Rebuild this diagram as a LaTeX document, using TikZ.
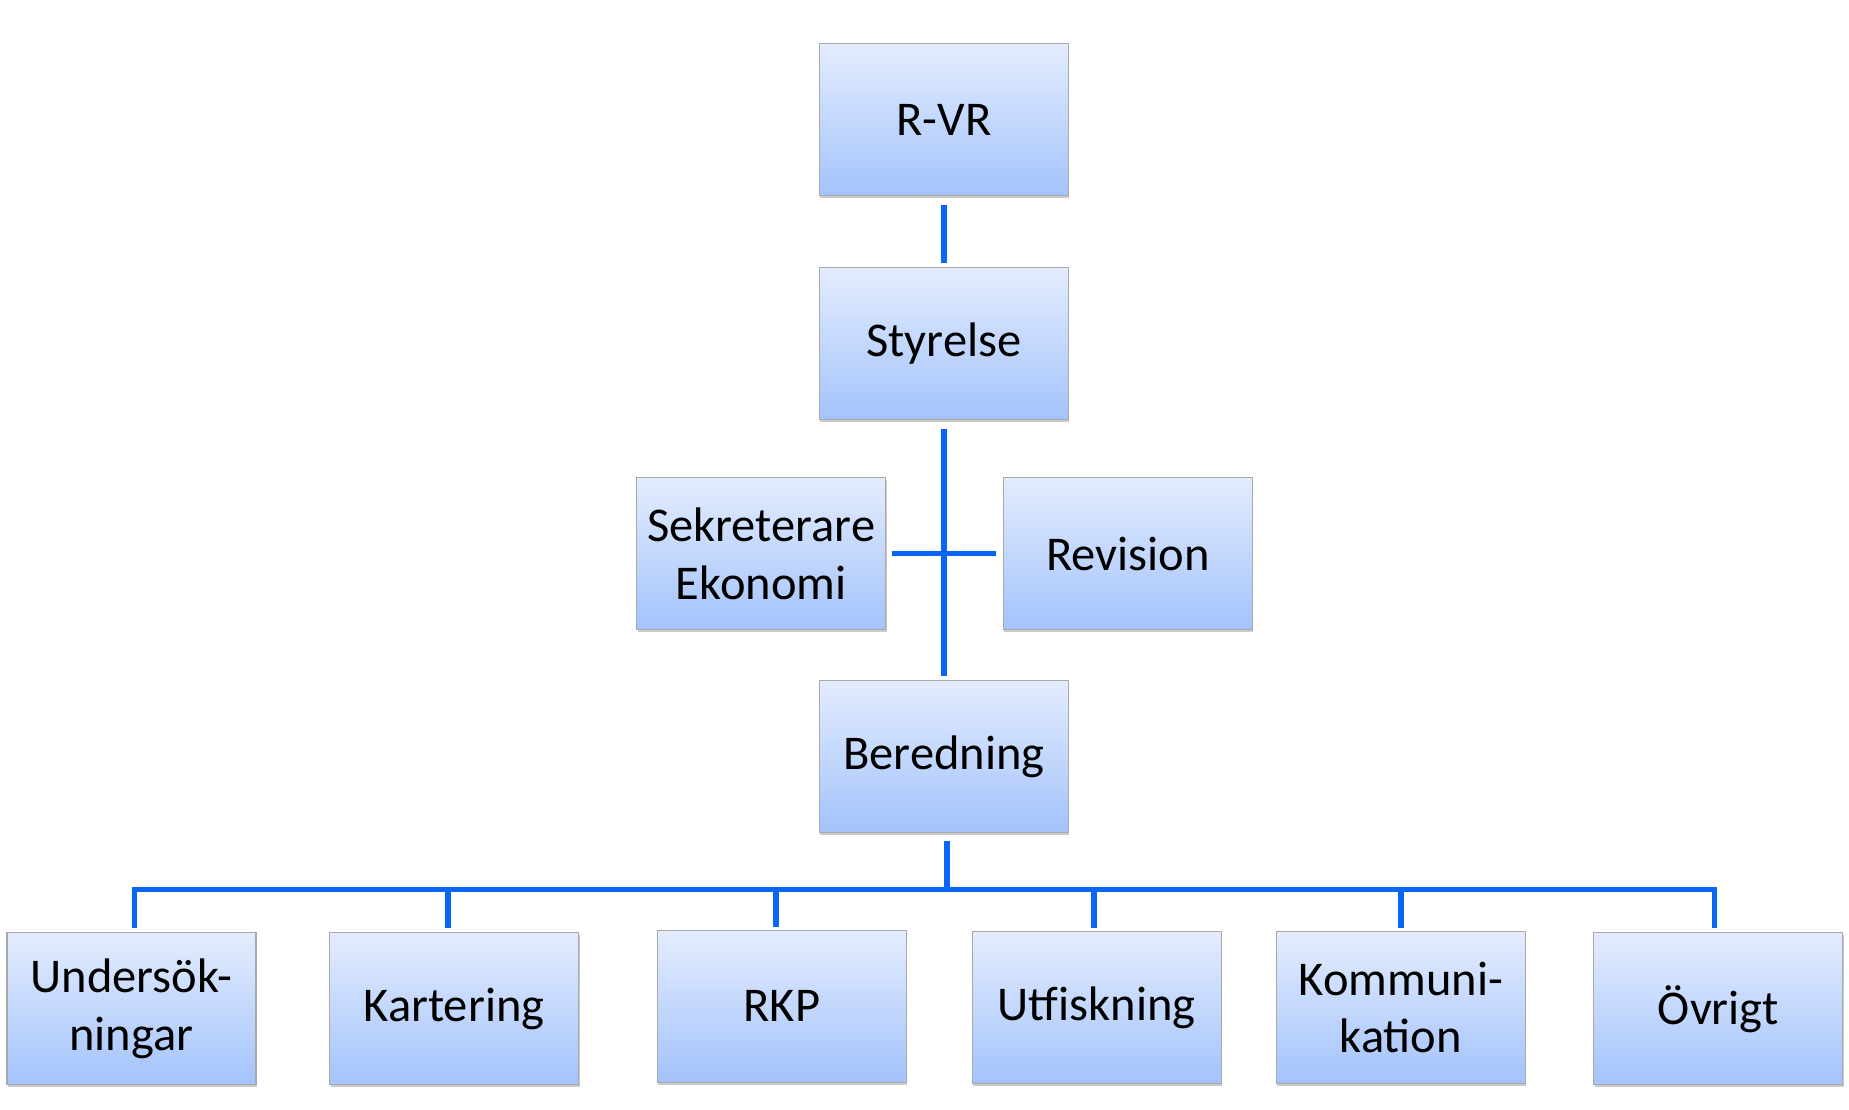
\documentclass[tikz,border=0pt]{standalone}
\usepackage{fontspec}
\setmainfont{Carlito}
\usetikzlibrary{shadows}
\definecolor{boxtop}{HTML}{E3ECFD}
\definecolor{boxbot}{HTML}{A3C3FC}
\definecolor{boxline}{HTML}{A8A8A8}
\definecolor{connblue}{HTML}{0A66F5}
\begin{document}
\begin{tikzpicture}[x=1pt,y=1pt,
  orgbox/.style={rectangle, minimum width=249pt, minimum height=152pt, inner sep=0pt,
    align=center, draw=boxline, line width=1.2pt, top color=boxtop, bottom color=boxbot,
    font=\fontsize{48.5}{57.5}\selectfont,
    drop shadow={shadow xshift=1pt, shadow yshift=-2.5pt, opacity=0.35, fill=black!60}},
  conn/.style={draw=connblue, line width=5.5pt}]
\useasboundingbox (0,0) rectangle (1849,-1109);
\node[orgbox] (rvr) at (943.9,-119.7) {R-VR};
\node[orgbox] (sty) at (943.9,-343.7) {Styrelse};
\node[orgbox] (sek) at (761.2,-553.6) {Sekreterare\\Ekonomi};
\node[orgbox] (rev) at (1127.9,-553.6) {Revision};
\node[orgbox] (ber) at (943.9,-756.5) {Beredning};
\node[orgbox] (und) at (131.5,-1008.8) {Undersök-\\ningar};
\node[orgbox] (kar) at (454,-1008.8) {Kartering};
\node[orgbox] (rkp) at (781.8,-1006.4) {RKP};
\node[orgbox] (utf) at (1096.7,-1007.6) {Utfiskning};
\node[orgbox] (kom) at (1400.9,-1007.6) {Kommuni-\\kation};
\node[orgbox] (ovr) at (1718.1,-1008.8) {Övrigt};
% connectors
\draw[conn, shorten <=8.5pt, shorten >=4.5pt] (rvr.south) -- (sty.north);
\draw[conn, shorten <=9pt, shorten >=4pt] (sty.south) -- (ber.north);
\draw[conn, shorten <=6pt, shorten >=7pt] (sek.east) -- (rev.west);
\draw[conn, shorten <=8pt] ([xshift=3pt]ber.south) -- ++(0,-56.5) coordinate (bj);
\draw[conn, line join=miter] ([xshift=3pt,yshift=4.5pt]und.north) -- ([xshift=3pt]und.north |- bj)
  -- ([xshift=-3.5pt]ovr.north |- bj) -- ([xshift=-3.5pt,yshift=4.5pt]ovr.north);
\draw[conn] ([xshift=-6pt]kar.north |- bj) -- ([xshift=-6pt,yshift=4.5pt]kar.north);
\draw[conn] ([xshift=-6pt]rkp.north |- bj) -- ([xshift=-6pt,yshift=2.5pt]rkp.north);
\draw[conn] ([xshift=-2.5pt]utf.north |- bj) -- ([xshift=-2.5pt,yshift=3.5pt]utf.north);
\draw[conn] (kom.north |- bj) -- ([yshift=3.5pt]kom.north);
\end{tikzpicture}
\end{document}
